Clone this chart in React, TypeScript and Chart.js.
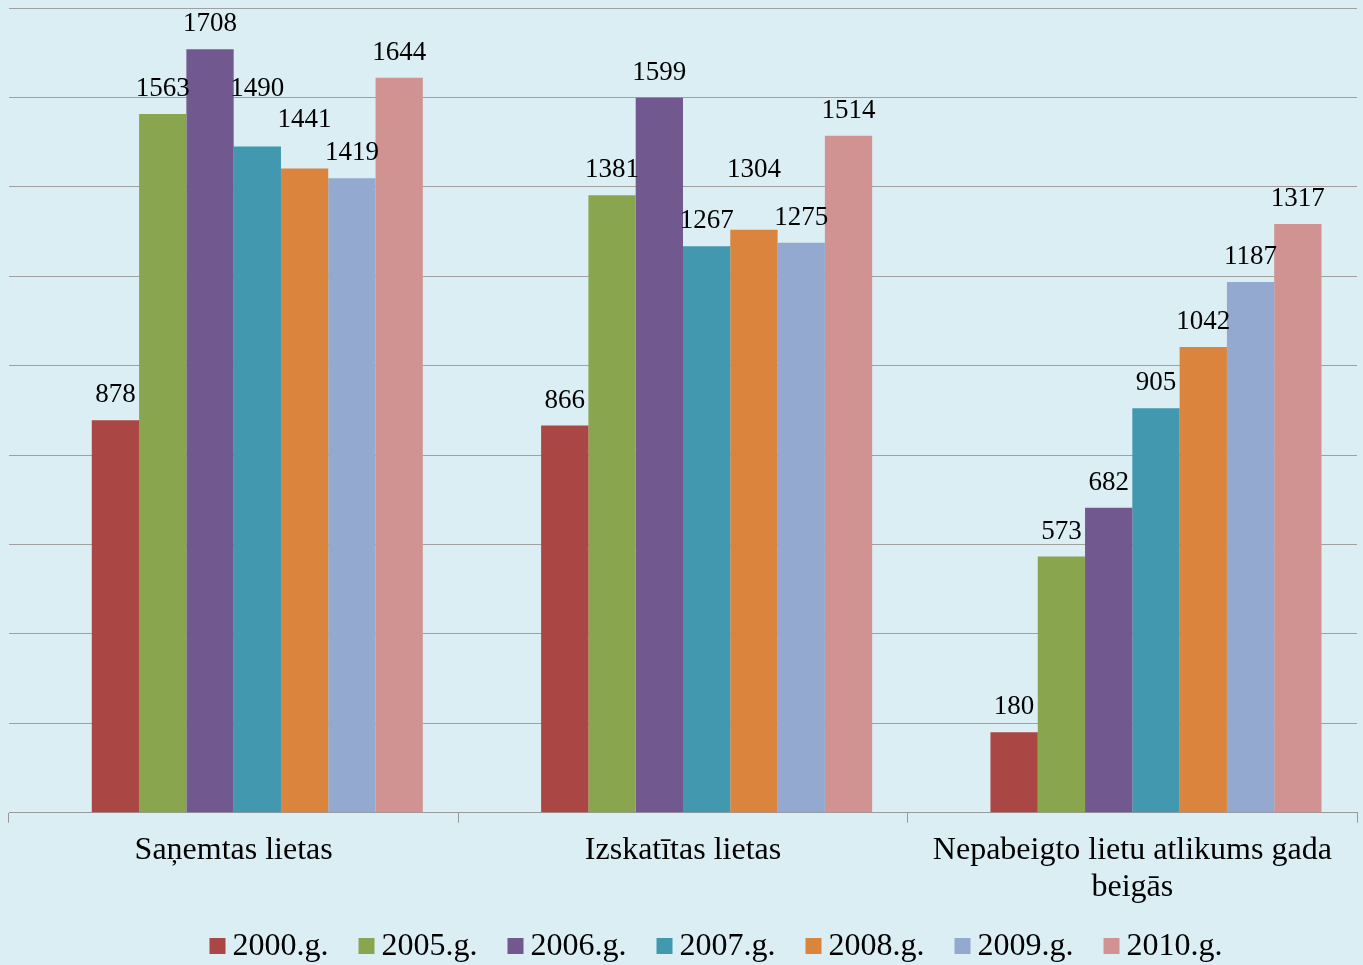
import React, { useEffect, useRef } from "react";
import { Chart, registerables } from "chart.js";

Chart.register(...registerables);

const categories: (string | string[])[] = [
  "Saņemtas lietas",
  "Izskatītas lietas",
  ["Nepabeigto lietu atlikums gada", "beigās"],
];
const seriesNames = ["2000.g.", "2005.g.", "2006.g.", "2007.g.", "2008.g.", "2009.g.", "2010.g."];
const s2000 = [878, 866, 180];
const s2005 = [1563, 1381, 573];
const s2006 = [1708, 1599, 682];
const s2007 = [1490, 1267, 905];
const s2008 = [1441, 1304, 1042];
const s2009 = [1419, 1275, 1187];
const s2010 = [1644, 1514, 1317];
const seriesValues = [s2000, s2005, s2006, s2007, s2008, s2009, s2010];
const colors = ["#AA4643", "#89A54E", "#71588F", "#4198AF", "#DB843D", "#93A9CF", "#D19392"];
const spacerData = [null, null, null];

const FONT = "'Liberation Serif', 'Times New Roman', serif";

// extra raise (px) for a few labels that were moved up in the original to avoid overlap
const labelRaise: Record<string, number> = {
  "2007.g.|0": 33,
  "2008.g.|0": 24,
  "2008.g.|1": 35,
};

const labelPlugin = {
  id: "valueLabels",
  afterDatasetsDraw(chart: any) {
    const ctx = chart.ctx;
    ctx.save();
    ctx.font = `27px ${FONT}`;
    ctx.fillStyle = "#000";
    ctx.textAlign = "center";
    ctx.textBaseline = "alphabetic";
    chart.data.datasets.forEach((ds: any, i: number) => {
      if (ds.isSpacer) return;
      const meta = chart.getDatasetMeta(i);
      meta.data.forEach((bar: any, j: number) => {
        const v = ds.data[j];
        if (v == null) return;
        const extra = labelRaise[`${ds.label}|${j}`] || 0;
        ctx.fillText(String(v), bar.x, bar.y - 18 - extra);
      });
    });
    ctx.restore();
  },
};

const legendPlugin = {
  id: "customLegend",
  afterDraw(chart: any) {
    const ctx = chart.ctx;
    ctx.save();
    ctx.font = `32px ${FONT}`;
    const box = 16;
    const gap = 7;
    const spacing = 30;
    const widths = seriesNames.map((n) => box + gap + ctx.measureText(n).width);
    const total = widths.reduce((a, b) => a + b, 0) + spacing * (seriesNames.length - 1);
    const cx = (chart.chartArea.left + chart.chartArea.right) / 2 + 33;
    let x = cx - total / 2;
    const yMid = 946;
    seriesNames.forEach((n, i) => {
      ctx.fillStyle = colors[i];
      ctx.fillRect(x, yMid - box / 2, box, box);
      ctx.fillStyle = "#000";
      ctx.textAlign = "left";
      ctx.textBaseline = "middle";
      ctx.fillText(n, x + box + gap, yMid + 1);
      x += widths[i] + spacing;
    });
    ctx.restore();
  },
};

export default function App() {
  const ref = useRef<HTMLCanvasElement | null>(null);
  useEffect(() => {
    document.body.style.margin = "0";
    const datasets: any[] = [
      {
        label: "",
        data: spacerData,
        backgroundColor: "rgba(0,0,0,0)",
        borderWidth: 0,
        barPercentage: 1,
        categoryPercentage: 0.842,
        isSpacer: true,
      },
      ...seriesNames.map((n, i) => ({
        label: n,
        data: seriesValues[i],
        backgroundColor: colors[i],
        borderWidth: 0,
        barPercentage: 1,
        categoryPercentage: 0.842,
      })),
    ];
    const chart = new Chart(ref.current!, {
      type: "bar",
      data: { labels: categories, datasets },
      options: {
        animation: false,
        responsive: false,
        maintainAspectRatio: false,
        layout: { padding: { top: 8, left: 9, right: 6, bottom: 50 } },
        plugins: {
          legend: { display: false },
          tooltip: { enabled: false },
        },
        scales: {
          x: {
            grid: {
              offset: true,
              drawOnChartArea: false,
              drawTicks: true,
              tickLength: 10,
              color: "#999",
            },
            border: { display: true, color: "#999" },
            ticks: {
              font: { family: FONT, size: 32, lineHeight: 1.16 },
              color: "#000",
              maxRotation: 0,
              autoSkip: false,
              padding: 9,
            },
          },
          y: {
            min: 0,
            max: 1800,
            ticks: { display: false, stepSize: 200 },
            grid: { color: "#A0A0A0", drawTicks: false },
            border: { display: false },
          },
        },
      } as any,
      plugins: [labelPlugin, legendPlugin],
    });
    return () => chart.destroy();
  }, []);
  return (
    <div style={{ width: 1363, height: 965, background: "#DBEEF4", position: "relative" }}>
      <canvas ref={ref} width={1363} height={965} style={{ display: "block" }} />
    </div>
  );
}
